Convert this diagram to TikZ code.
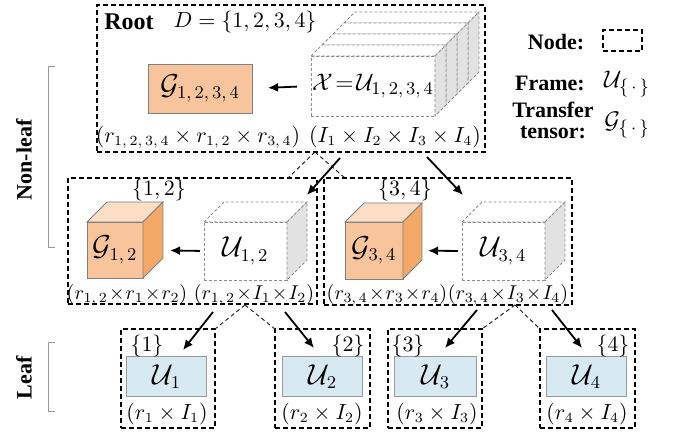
\documentclass[tikz,border=0pt]{standalone}
\usepackage[no-math]{fontspec}
\usetikzlibrary{arrows.meta}
\newfontfamily\tnr{Liberation Serif}
\definecolor{gfill}{HTML}{F8C49C}
\definecolor{gtop}{HTML}{FCDDC6}
\definecolor{gside}{HTML}{F3A868}
\definecolor{ufill}{HTML}{D7EAF2}
\definecolor{sidegray}{HTML}{E2E2E2}
\definecolor{brk}{HTML}{9A9A9A}
\newcommand{\pxbox}[7]{\node[#6, inner sep=0pt, outer sep=0pt, minimum width={(#4-#2)*0.5pt}, minimum height={(#5-#3)*0.5pt}] (#1) at ({(#2+#4)/2},{(#3+#5)/2}) {#7};}
\newcommand{\cubefaces}[5]{%
 \filldraw[#3, fill=#4] (#1.north west) -- ++(#2,-#2) -- ([shift={(#2,-#2)}]#1.north east) -- (#1.north east) -- cycle;
 \filldraw[#3, fill=#5] (#1.north east) -- ++(#2,-#2) -- ([shift={(#2,-#2)}]#1.south east) -- (#1.south east) -- cycle;}
\newcommand{\tightmath}{\medmuskip=1mu\relax}
\begin{document}
\begin{tikzpicture}[x=0.5pt,y=-0.5pt,
  treenode/.style={draw=black, dash pattern=on 2.5pt off 1.5pt, line width=0.75pt},
  gsolid/.style={draw=black!50, line width=0.4pt},
  ucube/.style={draw=black!45, dash pattern=on 1.5pt off 1pt, line width=0.4pt},
  ubox/.style={draw=black!40, fill=ufill, line width=0.5pt},
  arr/.style={-{Latex[length=5pt,width=4.5pt]}, line width=0.9pt},
  link/.style={draw=black!85, dash pattern=on 2pt off 1.5pt, line width=0.5pt},
  brack/.style={draw=brk, line width=0.5pt},
  bigm/.style={font=\fontsize{13.5}{15}\selectfont},
  diml/.style={font=\fontsize{10.5}{12}\selectfont, inner sep=0pt},
  midl/.style={font=\fontsize{10}{12}\selectfont\tightmath, inner sep=0pt},
  bold/.style={font=\tnr\bfseries\fontsize{11}{13}\selectfont, inner sep=0pt}]
\useasboundingbox (0,0) rectangle (677,433);

% ---------- Root ----------
\pxbox{root}{97}{5}{485}{152}{treenode}{}
\node[font=\tnr\bfseries\fontsize{12}{14}\selectfont, inner sep=0pt] (roottxt) at (129,22) {Root};
\node[diml] (dset) at (245,22) {$D=\{1,2,3,4\}$};
\pxbox{G1234}{148}{64}{252}{113}{gsolid, fill=gfill, bigm}{$\mathcal{G}_{1,\,2,\,3,\,4}$}
\foreach \k in {3,2,1} {
  \pgfmathsetmacro\dx{11*\k}
  \filldraw[ucube, fill=white] ({311+\dx},{56-\dx}) rectangle ({435+\dx},{116-\dx});
  \filldraw[ucube, fill=white] ({311+\dx},{56-\dx}) -- ({322+\dx},{45-\dx}) -- ({446+\dx},{45-\dx}) -- ({435+\dx},{56-\dx}) -- cycle;
  \filldraw[ucube, fill=sidegray] ({435+\dx},{56-\dx}) -- ({446+\dx},{45-\dx}) -- ({446+\dx},{105-\dx}) -- ({435+\dx},{116-\dx}) -- cycle;
}
\pxbox{X}{311}{56}{435}{116}{ucube, fill=white, font=\fontsize{13}{15}\selectfont}{$\mathcal{X}\!=\!\mathcal{U}_{1,\,2,\,3,\,4}$}
\cubefaces{X}{11}{ucube}{white}{sidegray}
\draw[arr, shorten <=7pt, shorten >=8pt] (X.west) -- (G1234.east);
\node[diml] (dG1234) at (198,137) {$(r_{1,\,2,\,3,\,4}\times r_{1,\,2}\times r_{3,\,4})$};
\node[diml] (dX) at (395,137) {$(I_1\times I_2\times I_3\times I_4)$};

% ---------- Legend ----------
\node[bold] (lnode) at (556,42) {Node:};
\pxbox{lrect}{603}{30}{642}{51}{treenode}{}
\node[bold] (lframe) at (550,83) {Frame:};
\node[font=\fontsize{12.5}{14}\selectfont] (lU) at (627,84) {$\mathcal{U}_{\{\,\cdot\,\}}$};
\node[bold] (ltrans) at (553,110) {Transfer};
\node[bold] (ltensor) at (553,132) {tensor:};
\node[font=\fontsize{12.5}{14}\selectfont] (lG) at (627,125) {$\mathcal{G}_{\{\,\cdot\,\}}$};

% ---------- Side brackets ----------
\node[bold, rotate=90] (nonleaf) at (24,160) {Non-leaf};
\node[bold, rotate=90] (leaf) at (24,378) {Leaf};
\draw[brack] (55,67) -- (49,67) -- (49,248) -- (55,248);
\draw[brack] (55,343) -- (49,343) -- (49,412) -- (55,412);

% ---------- Level 2 ----------
\pxbox{n12}{68}{178}{317}{304}{treenode}{}
\pxbox{n34}{324}{178}{572}{305}{treenode}{}
\node[diml] (s12) at (159,190) {$\{1,2\}$};
\node[diml] (s34) at (405,190) {$\{3,4\}$};

\pxbox{G12}{87}{222}{143}{278}{gsolid, fill=gfill, bigm}{$\mathcal{G}_{1,\,2}$}
\cubefaces{G12}{20}{gsolid}{gtop}{gside}
\pxbox{U12}{204}{222}{287}{280}{ucube, fill=white, bigm}{$\mathcal{U}_{1,\,2}$}
\cubefaces{U12}{20}{ucube}{white}{sidegray}
\draw[arr, shorten <=2pt, shorten >=13.5pt] (U12.west) -- (G12.east);

\pxbox{G34}{345}{222}{403}{279}{gsolid, fill=gfill, bigm}{$\mathcal{G}_{3,\,4}$}
\cubefaces{G34}{19}{gsolid}{gtop}{gside}
\pxbox{U34}{462}{222}{545}{280}{ucube, fill=white, bigm}{$\mathcal{U}_{3,\,4}$}
\cubefaces{U34}{20}{ucube}{white}{sidegray}
\draw[arr, shorten <=2pt, shorten >=12.5pt] (U34.west) -- (G34.east);

\node[midl] (dG12) at (127,295) {$(r_{1,\,2}\times r_1\times r_2)$};
\node[midl] (dU12) at (254,295) {$(r_{1,\,2}\times I_1\times I_2)$};
\node[midl] (dG34) at (387,295) {$(r_{3,\,4}\times r_3\times r_4)$};
\node[midl] (dU34) at (508,295) {$(r_{3,\,4}\times I_3\times I_4)$};

% root -> level 2
\coordinate (rsplit) at (315,152);
\coordinate (ra1) at (340,158); \coordinate (ra1e) at (307,195);
\coordinate (ra2) at (427,157); \coordinate (ra2e) at (463,195);
\draw[link] (rsplit) -- (288,178) coordinate (rl1);
\draw[link] (rsplit) -- (345,178) coordinate (rl2);
\draw[arr] (ra1) -- (ra1e);
\draw[arr] (ra2) -- (ra2e);

% ---------- Leaves ----------
\pxbox{n1}{121}{329}{215}{428}{treenode}{}
\pxbox{n2}{275}{329}{370}{428}{treenode}{}
\pxbox{n3}{388}{329}{482}{428}{treenode}{}
\pxbox{n4}{540}{329}{635}{428}{treenode}{}
\pxbox{U1}{127}{357}{207}{397}{ubox, bigm}{$\mathcal{U}_1$}
\pxbox{U2}{283}{357}{363}{397}{ubox, bigm}{$\mathcal{U}_2$}
\pxbox{U3}{395}{357}{477}{397}{ubox, bigm}{$\mathcal{U}_3$}
\pxbox{U4}{547}{357}{627}{397}{ubox, bigm}{$\mathcal{U}_4$}
\node[diml] (s1) at (147,346) {$\{1\}$};
\node[diml] (s2) at (348,346) {$\{2\}$};
\node[diml] (s3) at (408,346) {$\{3\}$};
\node[diml] (s4) at (613,346) {$\{4\}$};
\node[diml] (d1) at (167,414) {$(r_1\times I_1)$};
\node[diml] (d2) at (322,414) {$(r_2\times I_2)$};
\node[diml] (d3) at (437,414) {$(r_3\times I_3)$};
\node[diml] (d4) at (587,414) {$(r_4\times I_4)$};

% level 2 -> leaves
\coordinate (lsplit) at (245,305);
\coordinate (rsplit2) at (515,305);
\draw[link] (lsplit) -- (n1.north east);
\draw[link] (lsplit) -- (n2.north west);
\draw[link] (rsplit2) -- (n3.north east);
\draw[link] (rsplit2) -- (n4.north west);
\coordinate (a1) at (213,312); \coordinate (a1e) at (183,350);
\coordinate (a2) at (285,312); \coordinate (a2e) at (314,348);
\coordinate (a3) at (477,310); \coordinate (a3e) at (445,348);
\coordinate (a4) at (552,310); \coordinate (a4e) at (582,348);
\draw[arr] (a1) -- (a1e);
\draw[arr] (a2) -- (a2e);
\draw[arr] (a3) -- (a3e);
\draw[arr] (a4) -- (a4e);
\end{tikzpicture}
\end{document}
